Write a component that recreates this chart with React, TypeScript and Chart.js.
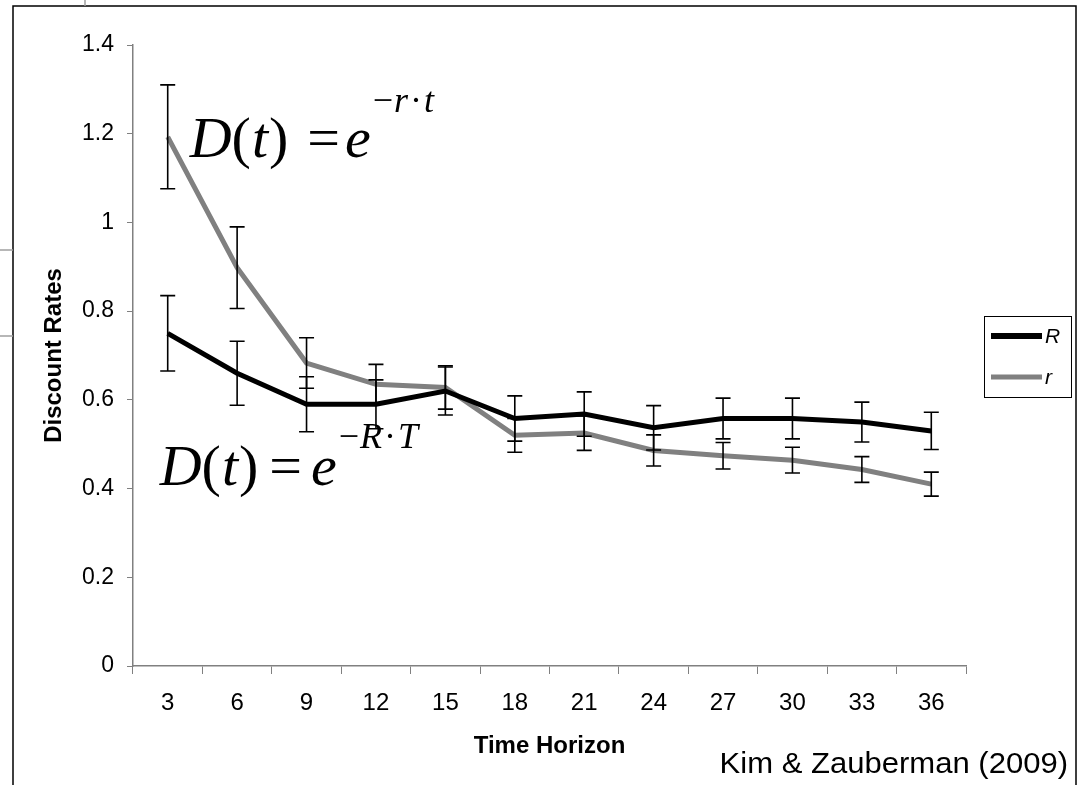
import React, { useEffect, useRef } from "react";
import { Chart, registerables } from "chart.js";

Chart.register(...registerables);

// ---------- data ----------
const categories = ["3", "6", "9", "12", "15", "18", "21", "24", "27", "30", "33", "36"];
const labelR = "R";
const valuesR = [0.75, 0.66, 0.59, 0.59, 0.62, 0.558, 0.568, 0.537, 0.558, 0.558, 0.55, 0.53];
const errorsR = [0.085, 0.072, 0.062, 0.055, 0.054, 0.051, 0.05, 0.05, 0.046, 0.046, 0.045, 0.042];
const labelr = "r";
const valuesr = [1.193, 0.898, 0.683, 0.635, 0.628, 0.52, 0.525, 0.486, 0.474, 0.464, 0.443, 0.41];
const errorsr = [0.117, 0.092, 0.057, 0.045, 0.049, 0.038, 0.039, 0.035, 0.03, 0.029, 0.029, 0.027];
const yTickLabels = ["0", "0.2", "0.4", "0.6", "0.8", "1", "1.2", "1.4"];
const yAxisTitle = "Discount Rates";
const xAxisTitle = "Time Horizon";
const sourceNote = "Kim & Zauberman (2009)";
const formulaVars = [
  ["r", "t"],
  ["R", "T"],
];

// ---------- styles / layout (not data) ----------
const W = 1082;
const H = 785;
const SANS = '"Liberation Sans", Arial, Helvetica, sans-serif';
const SERIF = '"Liberation Serif", "Times New Roman", Times, serif';
const AXIS_GRAY = "#808080";

// formula anchors in scale units (x: category index, y: value of baseline)
const formulaStyles = [
  { xv: 0.317, yv: 1.148, size: 58, exp: 36, raise: 45, gapBefore: 19, gapAfter: 5 },
  { xv: -0.115, yv: 0.408, size: 58, exp: 36, raise: 37, gapBefore: 11, gapAfter: 9 },
];

function drawFormula(ctx: CanvasRenderingContext2D, x: number, y: number, st: any, v1: string, v2: string) {
  const S = st.size;
  const E = st.exp;
  const parts: { t: string; it: boolean; s: number; dy: number; gap: number }[] = [
    { t: "D", it: true, s: S, dy: 0, gap: 0 },
    { t: "(", it: false, s: S, dy: 0, gap: 0 },
    { t: "t", it: true, s: S, dy: 0, gap: 1 },
    { t: ")", it: false, s: S, dy: 0, gap: 1 },
    { t: "=", it: false, s: S, dy: 0, gap: st.gapBefore },
    { t: "e", it: true, s: S, dy: 0, gap: st.gapAfter },
    { t: "\u2212", it: false, s: E, dy: -st.raise, gap: 2 },
    { t: v1, it: true, s: E, dy: -st.raise, gap: 1 },
    { t: "\u00B7", it: false, s: E, dy: -st.raise, gap: 2 },
    { t: v2, it: true, s: E, dy: -st.raise, gap: 2 },
  ];
  ctx.save();
  ctx.fillStyle = "#000";
  ctx.textAlign = "left";
  ctx.textBaseline = "alphabetic";
  let cx = x;
  for (const p of parts) {
    cx += p.gap;
    ctx.font = `${p.it ? "italic " : ""}${p.s}px ${SERIF}`;
    ctx.fillText(p.t, cx, y + p.dy);
    cx += ctx.measureText(p.t).width;
  }
  ctx.restore();
}

const framePlugin = {
  id: "frame",
  beforeDraw(chart: any) {
    const ctx = chart.ctx as CanvasRenderingContext2D;
    ctx.save();
    ctx.fillStyle = "#fff";
    ctx.fillRect(0, 0, W, H);
    ctx.strokeStyle = "#000";
    ctx.lineWidth = 1.5;
    ctx.beginPath();
    ctx.moveTo(13, H);
    ctx.lineTo(13, 6);
    ctx.lineTo(1076, 6);
    ctx.lineTo(1076, H);
    ctx.stroke();
    ctx.strokeStyle = "#a0a0a0";
    ctx.lineWidth = 1.5;
    ctx.beginPath();
    ctx.moveTo(85, 0);
    ctx.lineTo(85, 6);
    ctx.moveTo(0, 250);
    ctx.lineTo(13, 250);
    ctx.moveTo(0, 336);
    ctx.lineTo(13, 336);
    ctx.stroke();
    ctx.restore();
  },
};

const errorBarPlugin = {
  id: "errorBars",
  afterDatasetsDraw(chart: any) {
    const ctx = chart.ctx as CanvasRenderingContext2D;
    const yScale = chart.scales.y;
    ctx.save();
    ctx.strokeStyle = "#000";
    ctx.lineWidth = 1.6;
    chart.data.datasets.forEach((ds: any, i: number) => {
      const meta = chart.getDatasetMeta(i);
      ds.data.forEach((v: number, j: number) => {
        const e = ds.errors[j];
        const px = meta.data[j].x;
        const top = yScale.getPixelForValue(v + e);
        const bot = yScale.getPixelForValue(v - e);
        ctx.beginPath();
        ctx.moveTo(px, top);
        ctx.lineTo(px, bot);
        ctx.moveTo(px - 7.5, top);
        ctx.lineTo(px + 7.5, top);
        ctx.moveTo(px - 7.5, bot);
        ctx.lineTo(px + 7.5, bot);
        ctx.stroke();
      });
    });
    ctx.restore();
  },
};

const annotationPlugin = {
  id: "annotations",
  afterDraw(chart: any) {
    const ctx = chart.ctx as CanvasRenderingContext2D;
    const xs = chart.scales.x;
    const ys = chart.scales.y;
    formulaStyles.forEach((st, i) => {
      const x = xs.getPixelForValue(st.xv);
      const y = ys.getPixelForValue(st.yv);
      drawFormula(ctx, x, y, st, formulaVars[i][0], formulaVars[i][1]);
    });

    // legend
    ctx.save();
    ctx.strokeStyle = "#000";
    ctx.lineWidth = 1;
    ctx.strokeRect(984.5, 316.5, 87, 81);
    const rows = [336, 377];
    chart.data.datasets.forEach((ds: any, i: number) => {
      const y = rows[i];
      ctx.strokeStyle = ds.borderColor;
      ctx.lineWidth = i === 0 ? 6 : 5;
      ctx.beginPath();
      ctx.moveTo(991, y);
      ctx.lineTo(1042, y);
      ctx.stroke();
      ctx.fillStyle = "#000";
      ctx.font = `italic 21px ${SANS}`;
      ctx.textAlign = "left";
      ctx.textBaseline = "middle";
      ctx.fillText(ds.label, 1045, y + 1);
    });

    // source note (slightly wide, like the original slide)
    ctx.fillStyle = "#000";
    ctx.font = `29px ${SANS}`;
    ctx.textAlign = "right";
    ctx.textBaseline = "alphabetic";
    ctx.translate(1068, 773);
    ctx.scale(1.07, 1);
    ctx.fillText(sourceNote, 0, 0);
    ctx.restore();
  },
};

export default function App() {
  const ref = useRef<HTMLCanvasElement | null>(null);

  useEffect(() => {
    if (!ref.current) return;
    const chart = new Chart(ref.current, {
      type: "line",
      data: {
        labels: categories,
        datasets: [
          {
            label: labelR,
            data: valuesR,
            errors: errorsR,
            borderColor: "#000000",
            backgroundColor: "#000000",
            borderWidth: 5,
            pointRadius: 0,
            tension: 0,
          } as any,
          {
            label: labelr,
            data: valuesr,
            errors: errorsr,
            borderColor: "#808080",
            backgroundColor: "#808080",
            borderWidth: 5,
            pointRadius: 0,
            tension: 0,
          } as any,
        ],
      },
      options: {
        responsive: false,
        animation: false,
        devicePixelRatio: 1,
        layout: { padding: { top: 45, right: 116, bottom: 0, left: 0 } },
        plugins: {
          legend: { display: false },
          tooltip: { enabled: false },
        },
        scales: {
          x: {
            type: "category",
            offset: true,
            grid: {
              offset: true,
              drawOnChartArea: false,
              drawTicks: true,
              tickLength: 8,
              color: AXIS_GRAY,
              lineWidth: 1,
            },
            border: { display: true, color: AXIS_GRAY, width: 1.5 },
            ticks: {
              color: "#000",
              font: { family: SANS, size: 24 },
              padding: 15,
              maxRotation: 0,
              autoSkip: false,
            },
            title: {
              display: true,
              text: xAxisTitle,
              color: "#000",
              font: { family: SANS, size: 24, weight: "bold" },
              padding: { top: 0, bottom: 24 },
            },
            afterFit: (s: any) => {
              s.height = 119;
            },
          },
          y: {
            min: 0,
            max: 1.4,
            ticks: {
              stepSize: 0.2,
              color: "#000",
              font: { family: SANS, size: 23 },
              padding: 13,
              callback: (v: any) => yTickLabels[Math.round(Number(v) / 0.2)],
            },
            grid: {
              drawOnChartArea: false,
              drawTicks: true,
              tickLength: 6,
              color: AXIS_GRAY,
              lineWidth: 1,
            },
            border: { display: true, color: AXIS_GRAY, width: 1.5 },
            title: {
              display: true,
              text: yAxisTitle,
              color: "#000",
              font: { family: SANS, size: 24, weight: "bold" },
              padding: { top: 40, bottom: 0 },
            },
            afterFit: (s: any) => {
              s.width = 133;
            },
          },
        },
      } as any,
      plugins: [framePlugin, errorBarPlugin, annotationPlugin],
    });
    return () => chart.destroy();
  }, []);

  return (
    <div style={{ position: "absolute", left: 0, top: 0, width: W, height: H, background: "#fff" }}>
      <canvas ref={ref} width={W} height={H} style={{ display: "block" }} />
    </div>
  );
}
